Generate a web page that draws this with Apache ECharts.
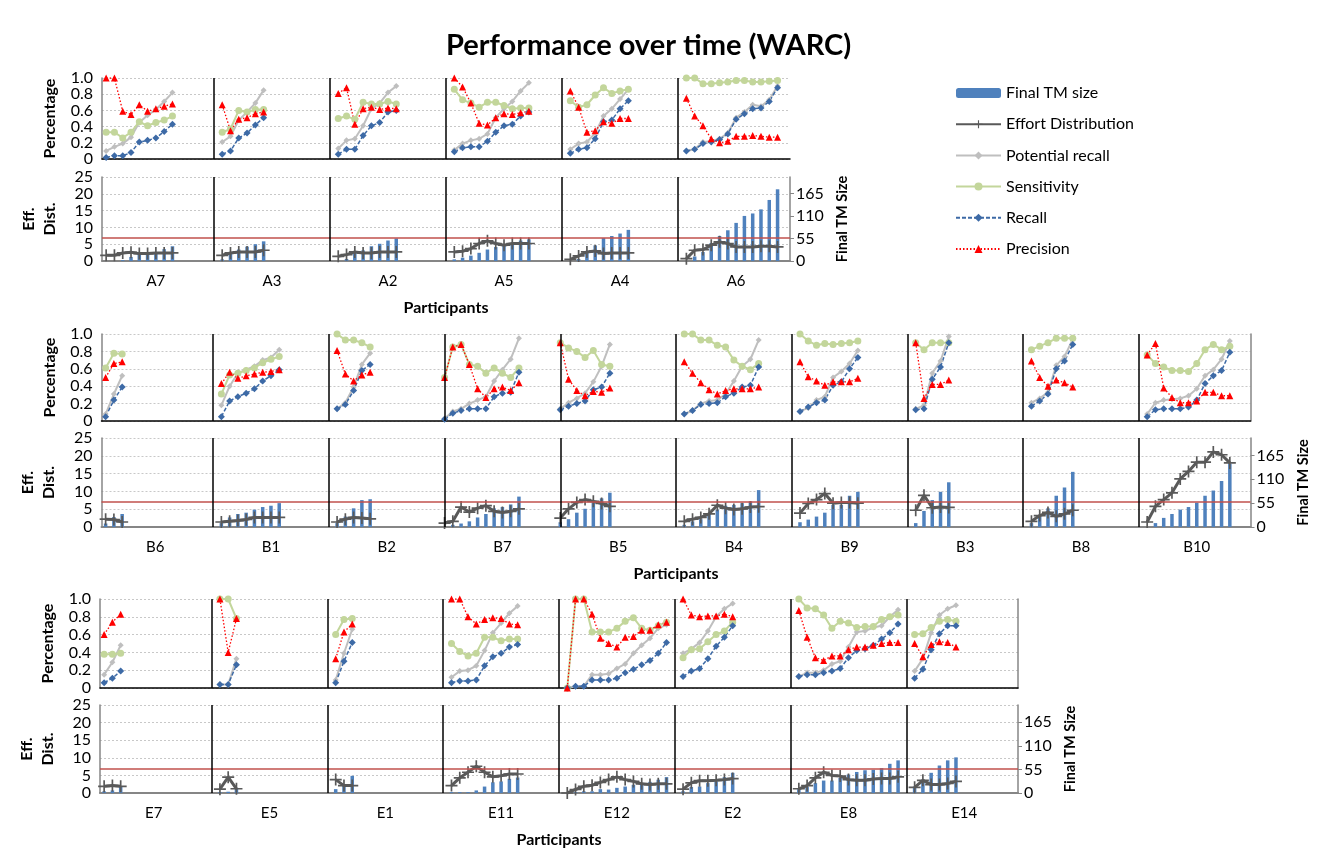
<!DOCTYPE html>
<html>
<head>
<meta charset="utf-8">
<script src="https://cdn.jsdelivr.net/npm/echarts@6/dist/echarts.min.js"></script>
<style>
html, body { margin: 0; padding: 0; background: #fff; }
#chart { width: 1332px; height: 861px; }
</style>
</head>
<body>
<div id="chart"></div>
<script>
// ---- row A ----
const rowANames = ['A7', 'A3', 'A2', 'A5', 'A4', 'A6'];
const rowAStart = [0, 0, 0, 0, 0, 0];
const rowAPrecision = [
    [1.0, 1.0, 0.59, 0.55, 0.67, 0.59, 0.62, 0.65, 0.68],
    [0.67, 0.35, 0.49, 0.51, 0.56, 0.58],
    [0.81, 0.88, 0.43, 0.62, 0.64, 0.61, 0.63, 0.62],
    [1.0, 0.89, 0.69, 0.44, 0.42, 0.51, 0.56, 0.55, 0.57, 0.59],
    [0.84, 0.64, 0.33, 0.35, 0.46, 0.44, 0.50, 0.50],
    [0.75, 0.53, 0.41, 0.25, 0.20, 0.22, 0.28, 0.28, 0.29, 0.28, 0.27, 0.27]
];
const rowASensitivity = [
    [0.33, 0.33, 0.26, 0.33, 0.46, 0.41, 0.45, 0.48, 0.53],
    [0.33, 0.37, 0.60, 0.58, 0.61, 0.61],
    [0.50, 0.53, 0.49, 0.70, 0.68, 0.68, 0.71, 0.68],
    [0.86, 0.73, 0.69, 0.64, 0.70, 0.70, 0.66, 0.62, 0.63, 0.63],
    [0.72, 0.64, 0.67, 0.79, 0.88, 0.81, 0.84, 0.86],
    [1.0, 1.0, 0.93, 0.93, 0.94, 0.95, 0.97, 0.97, 0.95, 0.95, 0.96, 0.97]
];
const rowAPotential = [
    [0.10, 0.15, 0.19, 0.27, 0.45, 0.54, 0.61, 0.71, 0.82],
    [0.21, 0.28, 0.48, 0.58, 0.69, 0.85],
    [0.13, 0.23, 0.25, 0.41, 0.62, 0.69, 0.82, 0.90],
    [0.11, 0.19, 0.23, 0.25, 0.31, 0.51, 0.62, 0.71, 0.84, 0.94],
    [0.12, 0.19, 0.21, 0.32, 0.53, 0.62, 0.74, 0.86],
    [0.10, 0.12, 0.21, 0.22, 0.25, 0.32, 0.51, 0.58, 0.67, 0.65, 0.73, 0.90]
];
const rowARecall = [
    [0.02, 0.04, 0.04, 0.08, 0.21, 0.23, 0.26, 0.34, 0.43],
    [0.06, 0.10, 0.26, 0.32, 0.42, 0.51],
    [0.06, 0.12, 0.12, 0.29, 0.41, 0.45, 0.58, 0.60],
    [0.09, 0.14, 0.15, 0.15, 0.22, 0.33, 0.41, 0.43, 0.53, 0.58],
    [0.07, 0.12, 0.14, 0.25, 0.46, 0.48, 0.62, 0.72],
    [0.10, 0.12, 0.19, 0.21, 0.24, 0.31, 0.49, 0.56, 0.62, 0.63, 0.71, 0.88]
];
const rowAEffort = [
    [1.7, 1.7, 2.4, 2.6, 2.2, 2.2, 2.4, 2.4, 2.4],
    [1.7, 2.4, 2.7, 2.7, 2.7, 3.2],
    [1.4, 1.9, 2.7, 2.4, 2.4, 2.7, 2.7, 2.7],
    [2.7, 2.9, 3.7, 5.2, 6.0, 5.2, 4.7, 5.2, 5.2, 5.2],
    [0.5, 1.5, 2.7, 3.0, 2.2, 2.4, 2.4, 2.4],
    [0.7, 3.2, 3.4, 4.7, 5.7, 5.2, 4.2, 4.2, 4.2, 4.4, 4.4, 4.2]
];
const rowATM = [
    [0, 0, 2, 10, 18, 20, 22, 29, 36],
    [4, 20, 28, 35, 41, 48],
    [0, 5, 20, 26, 36, 42, 50, 55],
    [4, 8, 13, 20, 28, 34, 41, 42, 50, 53],
    [0, 5, 22, 38, 56, 61, 67, 76],
    [0, 11, 22, 44, 61, 75, 93, 110, 116, 126, 149, 175]
];

// ---- row B ----
const rowBNames = ['B6', 'B1', 'B2', 'B7', 'B5', 'B4', 'B9', 'B3', 'B8', 'B10'];
const rowBStart = [0, 0, 0, -1, -1, 0, 0, 0, 0, 0];
const rowBPrecision = [
    [0.50, 0.66, 0.68],
    [0.43, 0.56, 0.49, 0.52, 0.54, 0.56, 0.57, 0.59],
    [0.81, 0.54, 0.46, 0.53, 0.56],
    [0.50, 0.85, 0.88, 0.65, 0.37, 0.27, 0.37, 0.39, 0.35, 0.44],
    [0.90, 0.48, 0.35, 0.29, 0.34, 0.33, 0.38],
    [0.68, 0.55, 0.44, 0.36, 0.31, 0.35, 0.37, 0.37, 0.37, 0.39],
    [0.68, 0.51, 0.46, 0.41, 0.45, 0.45, 0.45, 0.49],
    [0.90, 0.26, 0.42, 0.42, 0.47],
    [0.69, 0.50, 0.40, 0.47, 0.44, 0.39],
    [0.76, 0.89, 0.38, 0.27, 0.21, 0.21, 0.23, 0.33, 0.33, 0.29, 0.29]
];
const rowBSensitivity = [
    [0.61, 0.78, 0.77],
    [0.31, 0.53, 0.55, 0.58, 0.61, 0.67, 0.71, 0.74],
    [1.0, 0.93, 0.93, 0.90, 0.85],
    [0.50, 0.85, 0.88, 0.65, 0.63, 0.55, 0.61, 0.55, 0.50, 0.61],
    [0.90, 0.84, 0.80, 0.73, 0.81, 0.65, 0.63],
    [1.0, 1.0, 0.93, 0.93, 0.87, 0.85, 0.70, 0.63, 0.59, 0.66],
    [1.0, 0.92, 0.87, 0.89, 0.88, 0.89, 0.90, 0.92],
    [0.90, 0.82, 0.90, 0.90, 0.90],
    [0.82, 0.86, 0.90, 0.95, 0.95, 0.95],
    [0.76, 0.66, 0.62, 0.58, 0.58, 0.57, 0.66, 0.82, 0.88, 0.82, 0.86]
];
const rowBPotential = [
    [0.08, 0.31, 0.52],
    [0.18, 0.40, 0.55, 0.59, 0.63, 0.70, 0.73, 0.82],
    [0.14, 0.21, 0.39, 0.65, 0.78],
    [0.03, 0.11, 0.14, 0.20, 0.24, 0.28, 0.46, 0.59, 0.71, 0.95],
    [0.14, 0.21, 0.26, 0.32, 0.45, 0.63, 0.88],
    [0.08, 0.12, 0.20, 0.23, 0.24, 0.31, 0.46, 0.63, 0.71, 0.93],
    [0.11, 0.15, 0.24, 0.28, 0.50, 0.57, 0.66, 0.81],
    [0.14, 0.18, 0.55, 0.69, 0.97],
    [0.21, 0.26, 0.33, 0.64, 0.74, 0.94],
    [0.08, 0.21, 0.24, 0.25, 0.26, 0.29, 0.37, 0.52, 0.59, 0.71, 0.92]
];
const rowBRecall = [
    [0.05, 0.24, 0.39],
    [0.05, 0.23, 0.28, 0.32, 0.37, 0.46, 0.52, 0.59],
    [0.14, 0.19, 0.35, 0.58, 0.65],
    [0.02, 0.09, 0.12, 0.14, 0.14, 0.14, 0.28, 0.32, 0.33, 0.56],
    [0.13, 0.17, 0.20, 0.23, 0.36, 0.39, 0.55],
    [0.08, 0.12, 0.19, 0.20, 0.21, 0.28, 0.32, 0.39, 0.41, 0.62],
    [0.11, 0.16, 0.21, 0.24, 0.41, 0.45, 0.60, 0.73],
    [0.13, 0.14, 0.48, 0.62, 0.90],
    [0.17, 0.23, 0.31, 0.60, 0.69, 0.88],
    [0.05, 0.13, 0.14, 0.14, 0.14, 0.16, 0.24, 0.43, 0.52, 0.58, 0.79]
];
const rowBEffort = [
    [2.2, 2.1, 1.4],
    [1.4, 1.6, 1.8, 2.1, 2.7, 2.7, 2.7, 2.7],
    [1.4, 2.2, 2.7, 2.5, 2.3],
    [1.1, 1.6, 5.6, 4.2, 5.3, 6.0, 4.4, 4.1, 4.4, 5.1],
    [2.5, 5.1, 6.9, 7.7, 7.2, 6.6, 5.8],
    [1.6, 2.2, 2.7, 3.7, 6.1, 5.3, 4.9, 5.1, 5.6, 5.7],
    [3.9, 6.6, 7.7, 9.4, 6.7, 6.9, 6.9, 6.7],
    [4.7, 8.9, 5.4, 5.6, 5.5],
    [1.6, 3.2, 4.1, 3.0, 3.7, 4.7],
    [1.4, 5.8, 7.7, 9.6, 13.5, 15.6, 18.2, 18.2, 21.1, 20.3, 18.0]
];
const rowBTM = [
    [8, 23, 30],
    [9, 22, 30, 33, 40, 46, 49, 55],
    [9, 24, 43, 62, 64],
    [0, 5, 8, 13, 22, 30, 43, 46, 52, 70],
    [11, 18, 33, 42, 56, 66, 79],
    [5, 13, 18, 32, 40, 49, 51, 55, 59, 85],
    [11, 17, 24, 33, 51, 51, 72, 81],
    [9, 37, 62, 81, 103],
    [9, 24, 43, 72, 91, 127],
    [0, 9, 21, 30, 40, 46, 56, 72, 84, 106, 146]
];

// ---- row E ----
const rowENames = ['E7', 'E5', 'E1', 'E11', 'E12', 'E2', 'E8', 'E14'];
const rowEStart = [0, 0, 0, 0, 0, 0, 0, 0];
const rowEPrecision = [
    [0.60, 0.74, 0.83],
    [1.0, 0.40, 0.78],
    [0.33, 0.63, 0.72],
    [1.0, 1.0, 0.80, 0.72, 0.77, 0.79, 0.78, 0.72, 0.71],
    [0, 1.0, 1.0, 0.83, 0.56, 0.50, 0.46, 0.57, 0.58, 0.65, 0.65, 0.71, 0.74],
    [1.0, 0.82, 0.80, 0.81, 0.81, 0.83, 0.80],
    [0.87, 0.57, 0.34, 0.31, 0.36, 0.36, 0.43, 0.46, 0.46, 0.48, 0.50, 0.51, 0.51],
    [0.50, 0.35, 0.49, 0.52, 0.51, 0.46]
];
const rowESensitivity = [
    [0.38, 0.38, 0.39],
    [1.0, 1.0, 0.78],
    [0.60, 0.77, 0.78],
    [0.50, 0.41, 0.36, 0.39, 0.57, 0.57, 0.53, 0.55, 0.55],
    [0, 1.0, 1.0, 0.63, 0.63, 0.63, 0.67, 0.75, 0.79, 0.67, 0.65, 0.70, 0.74],
    [0.34, 0.43, 0.44, 0.52, 0.60, 0.64, 0.74],
    [1.0, 0.90, 0.89, 0.82, 0.67, 0.75, 0.73, 0.68, 0.69, 0.69, 0.77, 0.80, 0.82],
    [0.60, 0.61, 0.68, 0.75, 0.77, 0.75]
];
const rowEPotential = [
    [0.15, 0.29, 0.48],
    [0.04, 0.04, 0.33],
    [0.09, 0.39, 0.66],
    [0.12, 0.19, 0.20, 0.25, 0.42, 0.62, 0.73, 0.84, 0.92],
    [0, 0.02, 0.02, 0.15, 0.15, 0.16, 0.22, 0.27, 0.39, 0.48, 0.56, 0.67, 0.71],
    [0.39, 0.44, 0.51, 0.64, 0.80, 0.89, 0.95],
    [0.13, 0.17, 0.17, 0.20, 0.27, 0.30, 0.46, 0.63, 0.64, 0.68, 0.70, 0.80, 0.88],
    [0.19, 0.33, 0.62, 0.82, 0.89, 0.93]
];
const rowERecall = [
    [0.06, 0.11, 0.19],
    [0.04, 0.04, 0.26],
    [0.06, 0.30, 0.51],
    [0.06, 0.08, 0.08, 0.09, 0.25, 0.35, 0.39, 0.46, 0.49],
    [0, 0.02, 0.02, 0.09, 0.09, 0.09, 0.11, 0.17, 0.21, 0.26, 0.31, 0.39, 0.51],
    [0.13, 0.19, 0.22, 0.33, 0.47, 0.57, 0.70],
    [0.13, 0.15, 0.15, 0.17, 0.19, 0.22, 0.34, 0.42, 0.44, 0.48, 0.55, 0.62, 0.72],
    [0.11, 0.21, 0.43, 0.61, 0.70, 0.70]
];
const rowEEffort = [
    [1.9, 2.1, 1.9],
    [1.1, 4.5, 1.2],
    [3.8, 2.1, 2.1],
    [2.1, 4.3, 5.9, 7.6, 5.9, 4.6, 4.9, 5.4, 5.4],
    [0, 1.0, 1.9, 2.2, 3.0, 3.8, 4.6, 3.8, 3.3, 2.6, 2.4, 2.6, 2.6],
    [1.1, 2.9, 3.5, 3.5, 3.6, 3.8, 4.1],
    [1.2, 2.1, 4.3, 5.9, 5.0, 4.8, 3.8, 3.6, 3.6, 4.0, 4.1, 4.1, 4.6],
    [1.6, 3.6, 2.4, 2.4, 2.7, 3.3]
];
const rowETM = [
    [4, 6, 15],
    [2, 3, 12],
    [9, 19, 40],
    [2, 2, 2, 6, 15, 25, 27, 33, 36],
    [0, 2, 4, 4, 9, 8, 12, 15, 19, 23, 26, 31, 37],
    [4, 14, 15, 23, 27, 37, 47],
    [9, 14, 23, 29, 29, 35, 43, 49, 53, 54, 58, 68, 76],
    [15, 31, 47, 64, 76, 83]
];

const effortThreshold = 7;

const SLOT = 14;
const FONT = 'Lato, "Open Sans", sans-serif';
const PLUS = 'path://M4.3,0H5.7V4.3H10V5.7H5.7V10H4.3V5.7H0V4.3H4.3Z';

const rows = [
    { names: rowANames, start: rowAStart, prec: rowAPrecision, sens: rowASensitivity, pot: rowAPotential,
      rec: rowARecall, eff: rowAEffort, tm: rowATM,
      left: 102, width: 688, top: 78, topH: 81, bot: 177, botH: 84, rightLine: false },
    { names: rowBNames, start: rowBStart, prec: rowBPrecision, sens: rowBSensitivity, pot: rowBPotential,
      rec: rowBRecall, eff: rowBEffort, tm: rowBTM,
      left: 101.5, width: 1149, top: 334, topH: 87, bot: 438, botH: 89, rightLine: true },
    { names: rowENames, start: rowEStart, prec: rowEPrecision, sens: rowESensitivity, pot: rowEPotential,
      rec: rowERecall, eff: rowEEffort, tm: rowETM,
      left: 100, width: 918, top: 599, topH: 89, bot: 705, botH: 88, rightLine: true }
];

// place each participant's values into its block of the shared category axis
function spread(lists, starts, n) {
    const out = new Array(n * SLOT - 1).fill(null);
    lists.forEach((vals, k) => {
        vals.forEach((v, i) => { out[k * SLOT + starts[k] + i] = v; });
    });
    return out;
}

const axisText = { fontSize: 16, color: '#000', fontFamily: FONT };
const nameText = { fontSize: 16, fontWeight: 'bold', color: '#000', fontFamily: FONT };
const gridLine = { show: true, lineStyle: { type: [2, 2], color: '#c8c8c8', width: 1 } };
const greyAxis = { show: true, lineStyle: { color: '#868686', width: 1.5 } };

const option = {
    animation: false,
    backgroundColor: '#fff',
    title: {
        text: 'Performance over time (WARC)',
        left: 441,
        top: 26,
        textStyle: { fontSize: 29, fontWeight: 'bold', color: '#000', fontFamily: FONT }
    },
    legend: {
        orient: 'vertical',
        left: 950,
        top: 80,
        itemWidth: 45,
        itemHeight: 10,
        itemGap: 15.2,
        textStyle: { fontSize: 16, color: '#000', fontFamily: FONT },
        data: ['Final TM size', 'Effort Distribution', 'Potential recall', 'Sensitivity', 'Recall', 'Precision']
    },
    grid: [],
    xAxis: [],
    yAxis: [],
    series: []
};

rows.forEach((row) => {
    const n = row.names.length;
    const len = n * SLOT - 1;
    const cats = Array.from({ length: len }, (_, i) => 'c' + i);
    const g = option.grid.length;
    option.grid.push({ left: row.left, width: row.width, top: row.top, height: row.topH });
    option.grid.push({ left: row.left, width: row.width, top: row.bot, height: row.botH });

    const xi = option.xAxis.length;
    option.xAxis.push({
        type: 'category', gridIndex: g, data: cats, boundaryGap: true,
        axisLine: { lineStyle: { color: '#000', width: 1.5 } },
        axisTick: { show: false }, axisLabel: { show: false }, splitLine: { show: false }
    });
    option.xAxis.push({
        type: 'category', gridIndex: g + 1, data: cats, boundaryGap: true,
        axisLine: { lineStyle: { color: '#868686', width: 2 } },
        axisTick: { show: false },
        axisLabel: {
            interval: 0, margin: 13, fontSize: 15, color: '#000', fontFamily: FONT,
            formatter: (v, i) => (i % SLOT === 6 ? row.names[(i - 6) / SLOT] : '')
        },
        splitLine: { show: false },
        name: 'Participants', nameLocation: 'middle', nameGap: 39, nameTextStyle: nameText
    });

    const yPct = option.yAxis.length;
    option.yAxis.push({
        type: 'value', gridIndex: g, min: 0, max: 1, interval: 0.2,
        axisLine: greyAxis, axisTick: { show: false },
        axisLabel: Object.assign({ formatter: v => (v === 0 ? '0' : v.toFixed(1)), margin: 9 }, axisText),
        splitLine: gridLine,
        name: 'Percentage', nameLocation: 'middle', nameRotate: 90, nameGap: 44, nameTextStyle: nameText
    });
    if (row.rightLine) {
        option.yAxis.push({
            type: 'value', gridIndex: g, position: 'right', min: 0, max: 1,
            axisLine: greyAxis, axisTick: { show: false }, axisLabel: { show: false }, splitLine: { show: false }
        });
    }
    const yEff = option.yAxis.length;
    option.yAxis.push({
        type: 'value', gridIndex: g + 1, min: 0, max: 25, interval: 5,
        axisLine: greyAxis, axisTick: { show: false },
        axisLabel: Object.assign({ margin: 9 }, axisText),
        splitLine: gridLine,
        name: 'Eff.\nDist.', nameLocation: 'middle', nameRotate: 90, nameGap: 42,
        nameTextStyle: Object.assign({ lineHeight: 21 }, nameText)
    });
    const yTM = option.yAxis.length;
    option.yAxis.push({
        type: 'value', gridIndex: g + 1, position: 'right', min: 0, max: 205, interval: 55,
        axisLine: greyAxis, axisTick: { show: true, length: 4, lineStyle: { color: '#868686' } },
        axisLabel: Object.assign({ margin: 6, showMaxLabel: false }, axisText),
        splitLine: { show: false },
        name: 'Final TM Size', nameLocation: 'middle', nameRotate: 90, nameGap: 45,
        nameTextStyle: Object.assign({}, nameText, { fontSize: 14.5 })
    });

    const dividers = [];
    for (let k = 1; k < n; k++) {
        dividers.push({ xAxis: k * SLOT - 1, lineStyle: { color: '#000', width: 1.5, type: 'solid' } });
    }

    option.series.push({
        type: 'bar', name: 'Final TM size', xAxisIndex: xi + 1, yAxisIndex: yTM,
        data: spread(row.tm, row.start, n), barWidth: 3.5,
        itemStyle: { color: '#4f81bd' }
    });
    option.series.push({
        type: 'line', name: 'Effort Distribution', xAxisIndex: xi + 1, yAxisIndex: yEff,
        data: spread(row.eff, row.start, n),
        symbol: PLUS, symbolSize: 12, showAllSymbol: true,
        lineStyle: { color: '#595959', width: 3 }, itemStyle: { color: '#595959' },
        markLine: {
            silent: true, symbol: 'none', label: { show: false }, animation: false,
            data: [{ yAxis: effortThreshold, lineStyle: { color: '#c0504d', width: 1.5, type: 'solid' } }].concat(dividers)
        }
    });
    option.series.push({
        type: 'line', name: 'Potential recall', xAxisIndex: xi, yAxisIndex: yPct,
        data: spread(row.pot, row.start, n),
        symbol: 'diamond', symbolSize: 6, showAllSymbol: true,
        lineStyle: { color: '#bfbfbf', width: 2 }, itemStyle: { color: '#bfbfbf' }
    });
    option.series.push({
        type: 'line', name: 'Sensitivity', xAxisIndex: xi, yAxisIndex: yPct,
        data: spread(row.sens, row.start, n),
        symbol: 'circle', symbolSize: 7, showAllSymbol: true,
        lineStyle: { color: '#c3d69b', width: 2 }, itemStyle: { color: '#c3d69b' }
    });
    option.series.push({
        type: 'line', name: 'Recall', xAxisIndex: xi, yAxisIndex: yPct,
        data: spread(row.rec, row.start, n),
        symbol: 'diamond', symbolSize: 7, showAllSymbol: true,
        lineStyle: { color: '#3d6aa6', width: 1.5, type: [4, 2] }, itemStyle: { color: '#3d6aa6' }
    });
    option.series.push({
        type: 'line', name: 'Precision', xAxisIndex: xi, yAxisIndex: yPct,
        data: spread(row.prec, row.start, n),
        symbol: 'triangle', symbolSize: 7, showAllSymbol: true,
        lineStyle: { color: '#ff0000', width: 1.3, type: [1.5, 2] }, itemStyle: { color: '#ff0000' },
        markLine: {
            silent: true, symbol: 'none', label: { show: false }, animation: false,
            data: dividers
        }
    });
});

const chart = echarts.init(document.getElementById('chart'));
chart.setOption(option);
</script>
</body>
</html>
